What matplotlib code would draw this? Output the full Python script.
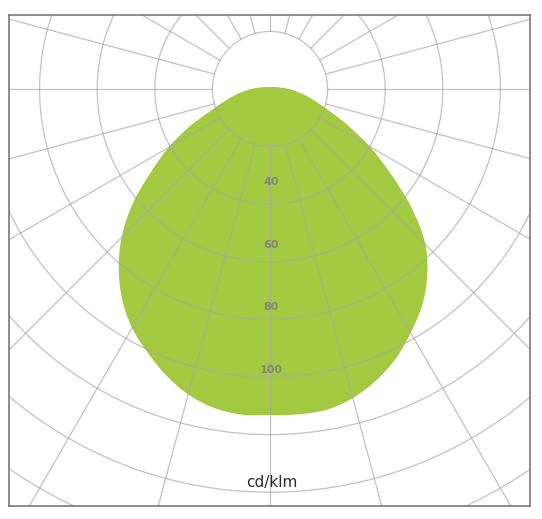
import numpy as np
import matplotlib.pyplot as plt
from matplotlib.path import Path
from matplotlib.patches import PathPatch

# luminous intensity, cd/klm, gamma measured from straight down
gamma = [0, 5, 10, 15, 20, 25, 30, 35, 40, 45, 50, 55, 60, 65, 70, 75, 80, 85, 90,
         100, 110, 120, 135, 150, 165, 180]
c0 = [113.2, 113.4, 113.1, 111.1, 107.7, 103.3, 97.7, 92.0, 84.9, 76.3, 64.2, 51.0,
      40.0, 29.8, 21.6, 16.3, 12.4, 9.1, 6.6, 3.2, 1.96, 1.36, 0.98, 0.8, 0.72, 0.7]
c180 = [113.2, 113.5, 112.4, 109.8, 105.7, 100.8, 95.8, 89.4, 81.7, 72.9, 62.4, 50.6,
        40.8, 30.8, 21.8, 16.3, 12.4, 9.1, 6.6, 3.2, 1.96, 1.36, 0.98, 0.8, 0.72, 0.7]

rings = [20, 40, 60, 80, 100, 120, 140, 160, 180, 200]
ray_angles = np.arange(0, 360, 15)
labels = [40, 60, 80, 100]
unit = "cd/klm"


def smooth_closed_path(pts, alpha=0.5):
    # centripetal Catmull-Rom through the points, as cubic Bezier segments
    n = len(pts)
    verts = [pts[0]]
    codes = [Path.MOVETO]
    for i in range(n):
        p0, p1, p2, p3 = pts[i - 1], pts[i], pts[(i + 1) % n], pts[(i + 2) % n]
        d1 = np.linalg.norm(p1 - p0) ** alpha
        d2 = np.linalg.norm(p2 - p1) ** alpha
        d3 = np.linalg.norm(p3 - p2) ** alpha
        b1 = (d1 ** 2 * p2 - d2 ** 2 * p0 + (2 * d1 ** 2 + 3 * d1 * d2 + d2 ** 2) * p1) / (3 * d1 * (d1 + d2))
        b2 = (d3 ** 2 * p1 - d2 ** 2 * p3 + (2 * d3 ** 2 + 3 * d3 * d2 + d2 ** 2) * p2) / (3 * d3 * (d3 + d2))
        verts += [b1, b2, p2]
        codes += [Path.CURVE4] * 3
    return Path(verts, codes)


fig = plt.figure(figsize=(5.42, 5.19), dpi=100)
ax = fig.add_axes([9 / 542, 13 / 519, 521 / 542, 491 / 519])

g = np.radians(gamma)
r0 = np.array(c0)
r1 = np.array(c180)
right = np.column_stack([r0 * np.sin(g), -r0 * np.cos(g)])
left = np.column_stack([-r1 * np.sin(g), -r1 * np.cos(g)])[1:-1][::-1]
pts = np.vstack([right, left])
ax.add_patch(PathPatch(smooth_closed_path(pts), facecolor="#a2c940", lw=0, zorder=1))

grid_kw = dict(color="#a8a8a8", alpha=0.7, lw=0.9, zorder=2)
t = np.linspace(0, 2 * np.pi, 720)
for r in rings:
    ax.plot(r * np.cos(t), r * np.sin(t), **grid_kw)
for a in np.radians(ray_angles):
    ax.plot([rings[0] * np.sin(a), 400 * np.sin(a)],
            [rings[0] * np.cos(a), 400 * np.cos(a)], **grid_kw)

for v in labels:
    ax.text(0.5, -(1.085 * v - 11.1), str(v), ha="center", va="center",
            fontsize=8, fontweight="bold", color="#7d7d7d", alpha=0.85, zorder=3)

ax.text(0.5, -136.8, unit, ha="center", va="center", fontsize=11,
        color="#2a2a2a", zorder=3)

ax.set_xlim(-261 / 2.88, 260 / 2.88)
ax.set_ylim(-417 / 2.88, 74 / 2.88)
ax.set_aspect("equal")
ax.set_xticks([])
ax.set_yticks([])
for s in ax.spines.values():
    s.set_color("#6e6e6e")
    s.set_linewidth(1.1)

fig.savefig("out.png", dpi=100)
